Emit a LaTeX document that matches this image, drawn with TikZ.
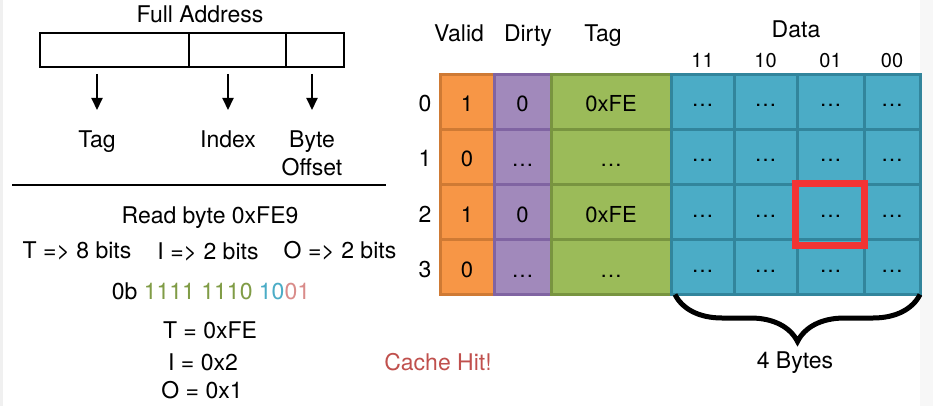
\documentclass[tikz,border=0pt]{standalone}
\usepackage{fontspec}
\setmainfont{TeX Gyre Heros}
\usetikzlibrary{arrows.meta,decorations.pathreplacing}
\definecolor{validfill}{RGB}{247,150,70}
\definecolor{validline}{RGB}{207,122,52}
\definecolor{dirtyfill}{RGB}{161,137,187}
\definecolor{dirtyline}{RGB}{128,100,162}
\definecolor{tagfill}{RGB}{155,187,89}
\definecolor{tagline}{RGB}{120,148,64}
\definecolor{datafill}{RGB}{75,172,198}
\definecolor{dataline}{RGB}{50,133,156}
\definecolor{hitred}{RGB}{242,52,52}
\definecolor{hittext}{RGB}{192,80,77}
\definecolor{bitgreen}{RGB}{128,156,70}
\definecolor{bitblue}{RGB}{75,172,198}
\definecolor{bitpink}{RGB}{217,140,138}
\begin{document}
\begin{tikzpicture}
	[x=1pt, y=-1pt,
	every node/.style={font=\fontsize{23}{28}\selectfont},
	field/.style={draw, line width=2.5pt, minimum height=34, inner sep=0, outer sep=0, anchor=west},
	part/.style={anchor=north, inner sep=0, align=center},
	down/.style={-{Triangle[length=12pt,width=11pt]}, line width=2pt, shorten <=7pt, shorten >=21pt},
	cell/.style={line width=3pt, minimum height=55, inner sep=0, outer sep=0,
		text height=20pt, text depth=0pt, font=\fontsize{22}{26}\selectfont},
	valid/.style={cell, fill=validfill, draw=validline, minimum width=54},
	dirty/.style={cell, fill=dirtyfill, draw=dirtyline, minimum width=57},
	tagcell/.style={cell, fill=tagfill, draw=tagline, minimum width=120},
	datacell/.style={cell, fill=datafill, draw=dataline},
	rowno/.style={inner sep=0, text height=20pt, text depth=0pt},
	hitbox/.style={draw=hitred, line width=7pt, minimum width=69, minimum height=62, inner sep=0},
	bytebrace/.style={decorate, decoration={brace, mirror, amplitude=47pt}, line width=5pt}
	]
	\useasboundingbox (0,0) rectangle (933,406);
	\fill[black!6] (0,0) rectangle (3,406);
	\fill[black!3] (920,0) rectangle (933,406);

	% address
	\node[anchor=base] (full) at (200,23) {Full Address};
	\node[field, minimum width=149] (ftag) at (40,50) {};
	\node[field, minimum width=97] (fidx) at (ftag.east) {};
	\node[field, minimum width=58] (foff) at (fidx.east) {};
	\node[part] (tagpart) at (97,131) {Tag};
	\node[part] (idxpart) at (228,131) {Index};
	\node[part] (offpart) at (312,131) {Byte\\Offset};
	\draw[down] (tagpart.north |- ftag.south) -- (tagpart.north);
	\draw[down] (idxpart.north |- fidx.south) -- (idxpart.north);
	\draw[down] (offpart.north |- foff.south) -- (offpart.north);
	\draw[line width=2.5pt] (12,185) -- (386,185);

	% example read
	\node[anchor=base] (read) at (210,223) {Read byte 0xFE9};
	\node[anchor=base] (tbits) at (77,258) {T => 8 bits};
	\node[anchor=base] (ibits) at (208,259) {I => 2 bits};
	\node[anchor=base] (obits) at (340,258) {O => 2 bits};
	\node[anchor=base] (bits) at (211,299) {0b \textcolor{bitgreen}{1111 1110} \textcolor{bitblue}{10}\textcolor{bitpink}{01}};
	\node[anchor=base] (tval) at (210,338) {T = 0xFE};
	\node[anchor=base] (ival) at (203,370) {I = 0x2};
	\node[anchor=base] (oval) at (202,398) {O = 0x1};
	\node[anchor=base, text=hittext] (hit) at (438,370) {Cache Hit!};

	% cache
	\node[anchor=base] (hvalid) at (459,42) {Valid};
	\node[anchor=base] (hdirty) at (528,42) {Dirty};
	\node[anchor=base] (htag) at (603,42) {Tag};
	\node[anchor=base] (hdata) at (796,38) {Data};
	\foreach \c/\x/\b in {0/702.5/11, 1/765.5/10, 2/830.5/01, 3/892/00}
		\node[anchor=base, font=\fontsize{20}{24}\selectfont] (hb\c) at (\x,68) {\b};
	\foreach \r/\v/\d/\t in {0/1/0/0xFE, 1/0/\ldots/\ldots, 2/1/0/0xFE, 3/0/\ldots/\ldots} {
		\node[rowno] (row\r) at (425,102+55*\r) {\r};
		\node[valid] (v\r) at (467,102+55*\r) {\v};
		\node[dirty] (dt\r) at (522.5,102+55*\r) {\d};
		\node[tagcell] (t\r) at (611,102+55*\r) {\t};
		\foreach \c/\x/\w in {0/702.5/63, 1/765.5/63, 2/830.5/67, 3/892/56}
			\node[datacell, minimum width=\w] (d\r\c) at (\x,102+55*\r) {\raisebox{5pt}{\ldots}};
	}
	\node[hitbox] (hitcell) at ([xshift=-0.5pt,yshift=-2pt]d22) {};
	\draw[bytebrace] ([xshift=4pt]d30.south west) -- (d33.south east);
	\node[anchor=base] (bytes) at (795,368) {4 Bytes};
\end{tikzpicture}
\end{document}
